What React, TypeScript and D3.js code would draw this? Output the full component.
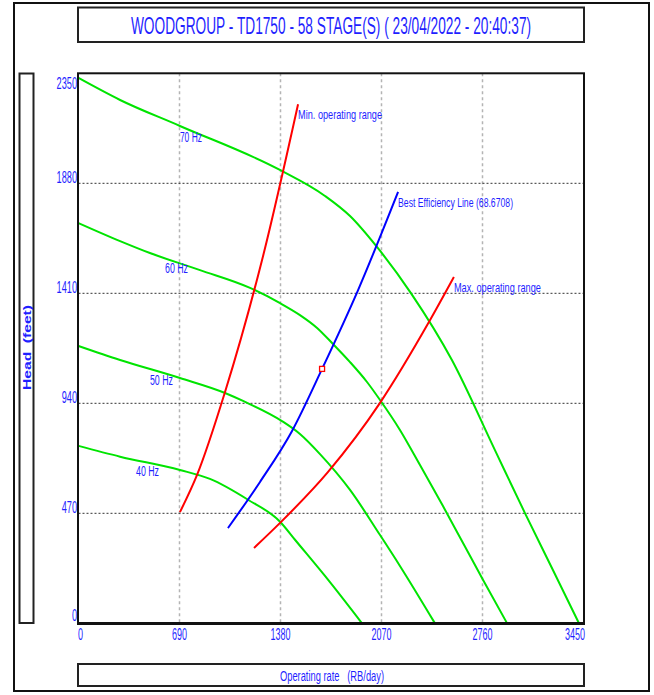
import * as d3 from 'd3';

const TITLE = 'WOODGROUP - TD1750 - 58 STAGE(S) ( 23/04/2022 - 20:40:37)';
const X_TICKS = [0, 690, 1380, 2070, 2760, 3450];
const Y_TICKS = [0, 470, 940, 1410, 1880, 2350];

// head curves per frequency, [rate RB/day, head feet]
const HZ70: [number, number][] = [
  [0, 2330], [284, 2236], [693, 2125], [1376, 1937], [1684, 1826], [1855, 1740], [2039, 1608],
  [2271, 1411], [2551, 1125], [2845, 740], [3050, 471], [3241, 228], [3419, 0],
];
const HZ60: [number, number][] = [
  [0, 1710], [284, 1633], [488, 1582], [830, 1509], [1172, 1433], [1377, 1368], [1513, 1317],
  [1630, 1262], [1739, 1193], [1855, 1116], [1971, 1031], [2060, 954], [2196, 826],
  [2333, 676], [2490, 501], [2627, 343], [2764, 185], [2928, 0],
];
const HZ50: [number, number][] = [
  [0, 1185], [284, 1125], [693, 1048], [1001, 984], [1124, 950], [1390, 864], [1513, 809],
  [1650, 723], [1855, 570], [2060, 377], [2196, 245], [2435, 0],
];
const HZ40: [number, number][] = [
  [0, 758], [284, 712], [693, 655], [898, 617], [1158, 528], [1377, 434], [1479, 357],
  [1718, 176], [1937, 0],
];
const SPEED_NAMES = ['70 Hz', '60 Hz', '50 Hz', '40 Hz'];

const MIN_RANGE: [number, number][] = [
  [693, 475], [810, 634], [1001, 988], [1254, 1552], [1500, 2218],
];
const BEST_EFF: [number, number][] = [
  [1021, 407], [1240, 604], [1459, 822], [1664, 1087], [1910, 1424], [2183, 1843],
];
const MAX_RANGE: [number, number][] = [
  [1199, 322], [1377, 429], [1705, 647], [2060, 942], [2394, 1287], [2565, 1480],
];
const BEP_POINT: [number, number] = [1664, 1087];
const RANGE_NAMES = ['Min. operating range', 'Best Efficiency Line (68.6708)', 'Max. operating range'];

const FONT = 'Liberation Sans, Arial, sans-serif';
const BLUE_TXT = '#1f1fff';
const GREEN = '#00e400';

export default function App() {
  const x = d3.scaleLinear().domain([0, 3450]).range([78.5, 583.5]);
  const y = d3.scaleLinear().domain([0, 2350]).range([623.3, 73.3]);

  const line = d3.line<[number, number]>()
    .x(d => x(d[0]))
    .y(d => y(d[1]))
    .curve(d3.curveMonotoneX);

  const speedCurves = [HZ70, HZ60, HZ50, HZ40];
  // where each frequency label sits (rate, head of the text baseline)
  const speedLabelAt: [number, number][] = [[693, 2056], [591, 1497], [488, 1018], [393, 629]];
  const speedLabelW = [22, 23, 23, 23];

  const ranges = [
    { pts: MIN_RANGE, color: '#ff0000', w: 84 },
    { pts: BEST_EFF, color: '#0000ff', w: 115 },
    { pts: MAX_RANGE, color: '#ff0000', w: 87 },
  ];

  return (
    <svg width={654} height={695} style={{ position: 'absolute', left: 0, top: 0, background: '#fff' }}>
      {/* outer frame */}
      <rect x={14} y={3} width={635} height={688} fill="none" stroke="#111" strokeWidth={2} />

      {/* title box */}
      <rect x={78} y={7.5} width={506} height={34.5} fill="#fff" stroke="#222" strokeWidth={2} />
      <text transform="translate(331,34) scale(1,1.68)" textAnchor="middle" fill={BLUE_TXT}
        fontFamily={FONT} fontSize={13.7}>{TITLE}</text>

      {/* y axis label box */}
      <rect x={19.5} y={73.5} width={14} height={549.5} fill="#fff" stroke="#222" strokeWidth={2} />
      <text transform="translate(31,347.5) rotate(-90)" textAnchor="middle" fill={BLUE_TXT}
        fontFamily={FONT} fontSize={11} fontWeight="bold" textLength={85} lengthAdjust="spacingAndGlyphs"
        style={{ whiteSpace: 'pre' }}>{'Head  (feet)'}</text>

      {/* x axis label box */}
      <rect x={78} y={664} width={506} height={22} fill="#fff" stroke="#222" strokeWidth={2} />
      <text x={332} y={681} textAnchor="middle" fill={BLUE_TXT} fontFamily={FONT} fontSize={14}
        textLength={104} lengthAdjust="spacingAndGlyphs" style={{ whiteSpace: 'pre' }}>
        {'Operating rate   (RB/day)'}
      </text>

      {/* grid */}
      {X_TICKS.slice(1, -1).map(t => (
        <line key={'gx' + t} x1={x(t)} x2={x(t)} y1={y(2350)} y2={y(0)} stroke="#b4b4b4"
          strokeWidth={1.5} strokeDasharray="3,3" />
      ))}
      {Y_TICKS.slice(1, -1).map(t => (
        <line key={'gy' + t} x1={x(0)} x2={x(3450)} y1={y(t)} y2={y(t)} stroke="#333"
          strokeWidth={1} strokeDasharray="2,2" />
      ))}

      {/* tick labels */}
      {X_TICKS.map((t, i) => (
        <text key={'tx' + t} x={i === 0 ? 78 : i === X_TICKS.length - 1 ? 585 : x(t)} y={640}
          textAnchor={i === 0 ? 'start' : i === X_TICKS.length - 1 ? 'end' : 'middle'}
          fill={BLUE_TXT} fontFamily={FONT} fontSize={16}
          textLength={String(t).length * 5} lengthAdjust="spacingAndGlyphs">{t}</text>
      ))}
      {Y_TICKS.map(t => (
        <text key={'ty' + t} x={77} y={Math.min(Math.max(y(t), 89), 621)} textAnchor="end"
          fill={BLUE_TXT} fontFamily={FONT} fontSize={16}
          textLength={String(t).length * 5.1} lengthAdjust="spacingAndGlyphs">{t}</text>
      ))}

      {/* frequency curves */}
      {speedCurves.map((c, i) => (
        <path key={'hz' + i} d={line(c) ?? ''} fill="none" stroke={GREEN} strokeWidth={2} />
      ))}
      {SPEED_NAMES.map((n, i) => (
        <text key={n} x={x(speedLabelAt[i][0])} y={y(speedLabelAt[i][1])} fill={BLUE_TXT}
          fontFamily={FONT} fontSize={14} textLength={speedLabelW[i]} lengthAdjust="spacingAndGlyphs">{n}</text>
      ))}

      {/* operating range lines */}
      {ranges.map((r, i) => {
        const top = r.pts[r.pts.length - 1];
        return (
          <g key={'rg' + i}>
            <path d={line(r.pts) ?? ''} fill="none" stroke={r.color} strokeWidth={2} />
            <text x={x(top[0])} y={y(top[1]) + 15} fill={BLUE_TXT} fontFamily={FONT} fontSize={13}
              textLength={r.w} lengthAdjust="spacingAndGlyphs">{RANGE_NAMES[i]}</text>
          </g>
        );
      })}
      <rect x={x(BEP_POINT[0]) - 2.5} y={y(BEP_POINT[1]) - 2.5} width={5} height={5} fill="#fff"
        stroke="#ff0000" strokeWidth={1.3} />

      {/* plot border */}
      <rect x={78} y={73.3} width={506} height={550} fill="none" stroke="#111" strokeWidth={2} />
      <line x1={77} x2={585} y1={623.5} y2={623.5} stroke="#111" strokeWidth={3} />
    </svg>
  );
}
